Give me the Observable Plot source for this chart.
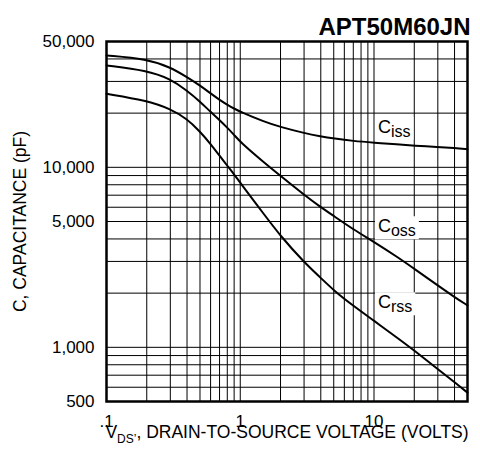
<!DOCTYPE html>
<html><head><meta charset="utf-8">
<script src="https://cdn.jsdelivr.net/npm/d3@7"></script>
<script src="https://cdn.jsdelivr.net/npm/@observablehq/plot@0.6"></script>
<style>
html,body{margin:0;padding:0;background:#fff;}
</style>
</head><body><div id="chart"></div>
<script>
const title = "APT50M60JN";
const xTitle = "VDS’, DRAIN-TO-SOURCE VOLTAGE (VOLTS)";
const yTitle = "C, CAPACITANCE (pF)";

const vds  = [0.1, 0.2, 0.3, 0.4, 0.5, 0.6, 0.7, 0.8, 0.9, 1, 1.5, 2, 3, 4, 5, 7, 10, 15, 20, 30, 40, 50];
const ciss = [41800, 40000, 36000, 31700, 28500, 25740, 23700, 22250, 21190, 20360, 17950, 16740, 15500, 14850, 14460, 14000, 13700, 13400, 13200, 12950, 12800, 12600];
const coss = [36800, 34500, 31000, 26700, 23200, 20300, 18300, 16600, 15150, 13800, 10650, 8960, 7030, 6000, 5370, 4520, 3850, 3170, 2730, 2205, 1900, 1710];
const crss = [25600, 23500, 21100, 18600, 15800, 13500, 11600, 10200, 9150, 8200, 5500, 4150, 2970, 2430, 2070, 1700, 1405, 1125, 960, 755, 640, 560];

const seriesNames = ["Ciss", "Coss", "Crss"];
const labelX = [10.7, 10.7, 10.7];
const labelY = [16750, 4690, 1774];

const xTicks = [0.1, 0.5, 1, 5, 10, 50];
const xTickLabels = [".1", ".5", "1", "5", "10", "50"];
const yTicks = [500, 1000, 5000, 10000, 50000];
const yTickLabels = ["500", "1,000", "5,000", "10,000", "50,000"];

const xGrid = [0.2, 0.3, 0.4, 0.5, 0.6, 0.7, 0.8, 0.9, 1, 2, 3, 4, 5, 6, 7, 8, 9, 10, 20, 30, 40];
const yGrid = [600, 700, 800, 900, 1000, 2000, 3000, 4000, 5000, 6000, 7000, 8000, 9000, 10000, 20000, 30000, 40000];

const data = [];
[ciss, coss, crss].forEach((arr, k) => arr.forEach((c, i) => data.push({series: seriesNames[k], v: vds[i], c})));
const labels = seriesNames.map((s, i) => ({s, x: labelX[i], y: labelY[i]}));
const xLab = new Map(xTicks.map((t, i) => [t, xTickLabels[i]]));
const yLab = new Map(yTicks.map((t, i) => [t, yTickLabels[i]]));

const chart = Plot.plot({
  width: 480, height: 451,
  marginTop: 41, marginLeft: 106, marginRight: 13, marginBottom: 50,
  style: {fontFamily: "'Liberation Sans', Arial, sans-serif", fontSize: "17px", background: "#fff", color: "#000", overflow: "visible"},
  x: {type: "log", domain: [0.1, 50]},
  y: {type: "log", domain: [500, 50000]},
  marks: [
    Plot.gridX(xGrid, {stroke: "#000", strokeOpacity: 1, strokeWidth: 1}),
    Plot.gridY(yGrid, {stroke: "#000", strokeOpacity: 1, strokeWidth: 1}),
    Plot.line(data, {x: "v", y: "c", z: "series", curve: "basis", stroke: "#000", strokeWidth: 2}),
    Plot.axisX(xTicks, {tickSize: 0, tickPadding: 13, tickFormat: d => xLab.get(d), fontSize: 17, label: null}),
    Plot.axisY(yTicks, {tickSize: 0, tickPadding: 12, tickFormat: d => yLab.get(d), fontSize: 17, label: null}),
    Plot.frame({stroke: "#000", strokeWidth: 2.5}),
    Plot.text(labels, {x: "x", y: "y", text: "s", textAnchor: "start", fontSize: 18, fill: "#000"}),
    Plot.text([title], {frameAnchor: "top-right", dy: -24, dx: 3, fontWeight: "bold", fontSize: 24, fill: "#000"}),
    Plot.text([xTitle], {frameAnchor: "bottom", dy: 36, fontSize: 17.5, fill: "#000"}),
    Plot.text([yTitle], {frameAnchor: "left", rotate: -90, dx: -86, textAnchor: "middle", fontSize: 17.5, fill: "#000"})
  ]
});
document.getElementById("chart").appendChild(chart);

const NS = "http://www.w3.org/2000/svg";
const svg = chart.tagName.toLowerCase() === "svg" ? chart : chart.querySelector("svg");
svg.querySelectorAll("text").forEach(t => {
  const s = t.textContent;
  if (seriesNames.includes(s)) {
    t.textContent = "";
    const a = document.createElementNS(NS, "tspan"); a.textContent = s[0];
    const b = document.createElementNS(NS, "tspan"); b.textContent = s.slice(1);
    b.setAttribute("font-size", "16"); b.setAttribute("dy", "4");
    t.appendChild(a); t.appendChild(b);
    const bb = t.getBBox();
    const r = document.createElementNS(NS, "rect");
    r.setAttribute("x", bb.x - 3); r.setAttribute("y", bb.y);
    r.setAttribute("width", bb.width + 6); r.setAttribute("height", bb.height);
    r.setAttribute("fill", "#fff"); r.setAttribute("stroke", "none");
    if (t.getAttribute("transform")) r.setAttribute("transform", t.getAttribute("transform"));
    t.parentNode.insertBefore(r, t);
  } else if (s === xTitle) {
    t.textContent = "";
    const a = document.createElementNS(NS, "tspan"); a.textContent = "V";
    const b = document.createElementNS(NS, "tspan"); b.textContent = "DS’";
    b.setAttribute("font-size", "12"); b.setAttribute("dy", "5");
    const c = document.createElementNS(NS, "tspan"); c.textContent = ", DRAIN-TO-SOURCE VOLTAGE (VOLTS)";
    c.setAttribute("dy", "-5");
    t.appendChild(a); t.appendChild(b); t.appendChild(c);
  }
});
</script>
</body></html>
